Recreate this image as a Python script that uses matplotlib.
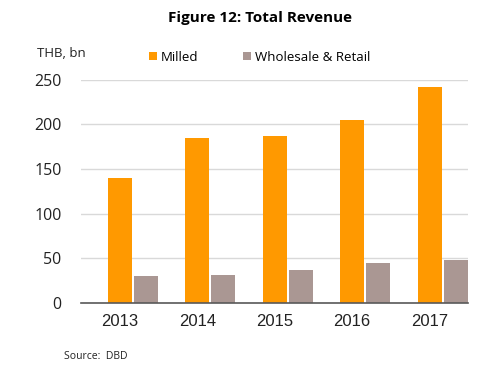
import matplotlib.pyplot as plt
import numpy as np

years = ["2013", "2014", "2015", "2016", "2017"]
milled = [140, 185, 187, 205, 242]
wholesale = [30, 32, 37, 45, 48]

plt.rcParams['font.family'] = ['Open Sans', 'DejaVu Sans']

fig = plt.figure(figsize=(4.95, 3.71), dpi=100)
ax = fig.add_axes([0.164, 0.183, 0.782, 0.602])

x = np.arange(len(years))
w = 0.31
ax.bar(x, milled, width=w, color="#FF9900", label="Milled", zorder=3)
ax.bar(x + 0.336, wholesale, width=w, color="#AA9793", label="Wholesale & Retail", zorder=3)

ax.set_xlim(-0.5, len(years) - 0.5)
ax.set_ylim(0, 250)
ax.set_yticks([0, 50, 100, 150, 200, 250])
ax.set_xticks(x)
ax.set_xticklabels(years, family=['Liberation Sans'], fontsize=12, color="#222222")
ax.tick_params(axis='y', labelsize=11.5, colors="#222222", length=0, pad=14)
ax.tick_params(axis='x', length=0, pad=8)
ax.grid(axis='y', color="#d9d9d9", linewidth=1, zorder=0)
for s in ["left", "right", "top"]:
    ax.spines[s].set_visible(False)
ax.spines["bottom"].set_color("#595959")
ax.spines["bottom"].set_linewidth(1.2)
ax.spines["bottom"].set_zorder(4)

fig.text(0.525, 0.952, "Figure 12: Total Revenue", ha="center", va="center",
         fontsize=11, fontweight="bold")
fig.text(0.075, 0.857, "THB, bn", ha="left", va="center", fontsize=9.5, color="#222222")

ax.legend(loc="center left", bbox_to_anchor=(0.175, 1.10), ncol=2, frameon=False,
          fontsize=9.5, handlelength=0.6, handleheight=0.6, handletextpad=0.3,
          columnspacing=3.4, borderaxespad=0, borderpad=0)

fig.text(0.129, 0.04, "Source:  DBD", ha="left", va="center", fontsize=7.5, color="#222222")

fig.savefig("out.png", dpi=100)
